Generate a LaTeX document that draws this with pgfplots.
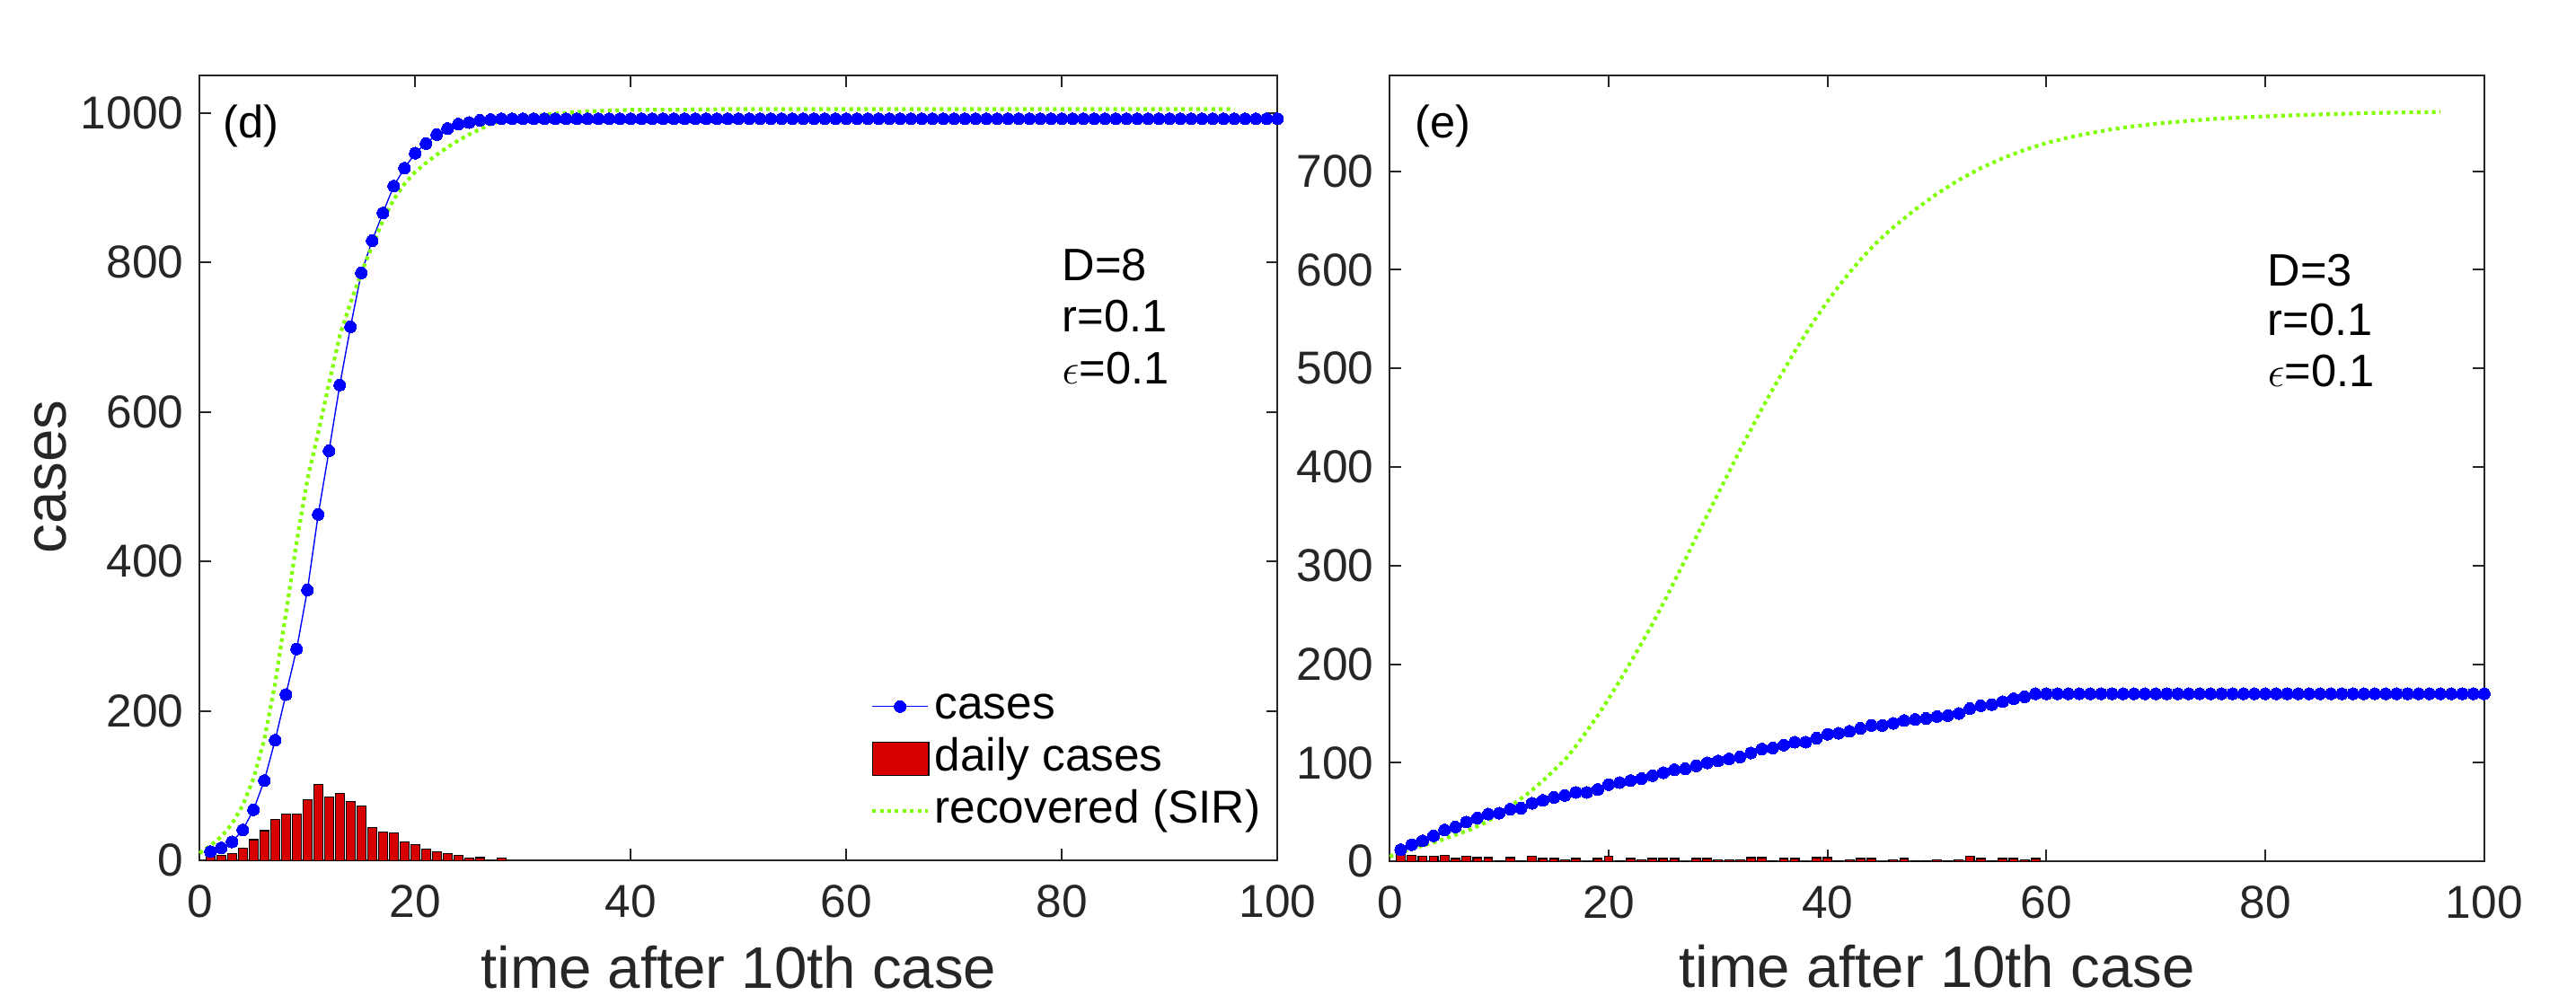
\documentclass[border=0pt]{standalone}
\usepackage{fontspec}
\setmainfont{Liberation Sans}
\usepackage{pgfplots}
\pgfplotsset{compat=1.18}
\definecolor{axgray}{RGB}{38,38,38}
\definecolor{barred}{RGB}{215,0,0}
\definecolor{sirgreen}{RGB}{128,255,0}
\tikzset{annot/.style={anchor=base west, inner sep=0pt, font=\fontsize{12.7}{15}\selectfont, text=black}}
\pgfplotsset{
  myaxis/.style={
    scale only axis, anchor=south west,
    xmin=0, xmax=100, ymin=0,
    xtick={0,20,...,100},
    tick align=inside,
    major tick length=3.2bp,
    axis line style={line width=0.5bp, draw=axgray},
    tick style={line width=0.5bp, color=axgray},
    tick label style={font=\fontsize{12.9}{15}\selectfont, text=axgray, inner sep=0pt},
    xticklabel style={anchor=north, yshift=-6.7bp},
    yticklabel style={anchor=east, xshift=-4.3bp},
    /pgf/number format/1000 sep={},
    /pgf/number format/assume math mode=true,
    label style={font=\fontsize{16.4}{19}\selectfont, text=axgray, inner sep=0pt},
    clip=false,
  },
  casesplot/.style={blue, line width=0.35bp, mark=*, mark size=1.65bp, mark options={fill=blue, draw=blue, line width=0pt},
    legend image code/.code={\draw[mark repeat=2,mark phase=2,##1] plot coordinates {(0bp,0bp)(7.75bp,0bp)(15.5bp,0bp)};}},
  barplot/.style={ybar, bar width=0.8, bar shift=0pt, fill=barred, draw=black, line width=0.3bp,
    legend image code/.code={\draw[##1] (0bp,-4.65bp) rectangle (15.7bp,4.65bp);}},
  sirplot/.style={sirgreen, line width=1.05bp, dash pattern=on 1bp off 1.1bp, mark=none,
    legend image code/.code={\draw[##1] (0bp,0bp) -- (15.5bp,0bp);}},
}
\begin{document}
\begin{tikzpicture}
\path[use as bounding box] (0,0) rectangle (717bp,279.5bp);
% ---------------- left panel (d)
\begin{axis}[myaxis,
  at={(55.575bp,39.925bp)}, width=300bp, height=218.575bp,
  ymax=1050, ytick={0,200,...,1000},
  xlabel={time after 10th case}, ylabel={cases},
  xlabel style={at={(axis description cs:0.5,-0.1621)}, anchor=base},
  ylabel style={at={(axis description cs:-0.1244,0.4887)}, anchor=base},
  legend style={at={(axis description cs:0.6223,0.2239)}, anchor=north west, draw=none, fill=none,
    inner sep=0pt, outer sep=0pt, row sep=2.4bp,
    font=\fontsize{12.9}{15}\selectfont,
    nodes={inner sep=0pt, text height=9.4bp, text depth=2.7bp, text=black},
    /tikz/every odd column/.append style={column sep=1.3bp}},
  legend cell align=left,
]
\addplot[casesplot] coordinates {
(1,12)(2,17)(3,25)(4,41)(5,68)(6,107)(7,161)(8,222)(9,283)(10,362)
(11,463)(12,548)(13,636)(14,714)(15,786)(16,829)(17,866)(18,902)(19,926)(20,946)
(21,959)(22,971)(23,979)(24,985)(25,987)(26,990)(27,991)(28,992)(29,992)(30,992)
(31,992)(32,992)(33,992)(34,992)(35,992)(36,992)(37,992)(38,992)(39,992)(40,992)
(41,992)(42,992)(43,992)(44,992)(45,992)(46,992)(47,992)(48,992)(49,992)(50,992)
(51,992)(52,992)(53,992)(54,992)(55,992)(56,992)(57,992)(58,992)(59,992)(60,992)
(61,992)(62,992)(63,992)(64,992)(65,992)(66,992)(67,992)(68,992)(69,992)(70,992)
(71,992)(72,992)(73,992)(74,992)(75,992)(76,992)(77,992)(78,992)(79,992)(80,992)
(81,992)(82,992)(83,992)(84,992)(85,992)(86,992)(87,992)(88,992)(89,992)(90,992)
(91,992)(92,992)(93,992)(94,992)(95,992)(96,992)(97,992)(98,992)(99,992)(100,992)
};
\addlegendentry{cases}
\addplot[barplot] coordinates {
(1,11)(2,7)(3,9)(4,17)(5,28)(6,40)(7,55)(8,62)(9,62)(10,81)
(11,102)(12,85)(13,90)(14,79)(15,73)(16,44)(17,38)(18,37)(19,25)(20,21)
(21,15)(22,12)(23,9)(24,7)(25,3)(26,4)(27,0)(28,3)
};
\addlegendentry{daily cases}
\addplot[sirplot] coordinates {
(0,10)(1,20)(2,32)(3,49)(4,74)(5,110)(6,162)(7,237)(8,330)(9,426)
(10,510)(11,572)(12,638)(13,702)(14,746)(15,786)(16,822)(17,856)(18,884)(19,905)
(20,921)(21,933)(22,944)(23,954)(24,963)(25,971)(26,978)(27,985)(28,989)(30,994)
(33,999)(36,1002)(40,1004)(50,1005)(60,1005)(70,1005)(80,1005)(90,1005)(96,1005)
};
\addlegendentry{recovered (SIR)}
\node[annot] at (axis description cs:0.0214,0.921) {(d)};
\node[annot] at (axis description cs:0.7997,0.7388) {D=8};
\node[annot] at (axis description cs:0.7997,0.6735) {r=0.1};
\node[annot] at (axis description cs:0.7997,0.6072) {$\epsilon$=0.1};
\end{axis}
% ---------------- right panel (e)
\begin{axis}[myaxis,
  at={(386.825bp,39.675bp)}, width=304.625bp, height=218.825bp,
  ymax=797, ytick={0,100,...,700},
  xlabel={time after 10th case},
  xlabel style={at={(axis description cs:0.5,-0.1607)}, anchor=base},
]
\addplot[casesplot] coordinates {
(1,12)(2,17)(3,21)(4,26)(5,32)(6,35)(7,40)(8,44)(9,48)(10,49)
(11,53)(12,54)(13,59)(14,62)(15,65)(16,67)(17,70)(18,70)(19,73)(20,78)
(21,80)(22,82)(23,84)(24,87)(25,90)(26,93)(27,94)(28,97)(29,100)(30,102)
(31,104)(32,106)(33,110)(34,114)(35,115)(36,118)(37,121)(38,121)(39,125)(40,129)
(41,130)(42,132)(43,135)(44,138)(45,138)(46,140)(47,143)(48,144)(49,145)(50,147)
(51,148)(52,150)(53,155)(54,158)(55,159)(56,162)(57,165)(58,167)(59,170)(60,170)
(61,170)(62,170)(63,170)(64,170)(65,170)(66,170)(67,170)(68,170)(69,170)(70,170)
(71,170)(72,170)(73,170)(74,170)(75,170)(76,170)(77,170)(78,170)(79,170)(80,170)
(81,170)(82,170)(83,170)(84,170)(85,170)(86,170)(87,170)(88,170)(89,170)(90,170)
(91,170)(92,170)(93,170)(94,170)(95,170)(96,170)(97,170)(98,170)(99,170)(100,170)
};
\addplot[barplot] coordinates {
(1,10)(2,6)(3,5)(4,5)(5,6)(6,3)(7,5)(8,4)(9,4)(10,1)
(11,4)(12,1)(13,5)(14,3)(15,3)(16,2)(17,3)(18,0)(19,3)(20,5)
(21,1)(22,3)(23,2)(24,3)(25,3)(26,3)(27,0)(28,3)(29,3)(30,2)
(31,2)(32,2)(33,4)(34,4)(35,1)(36,3)(37,3)(38,0)(39,4)(40,4)
(41,1)(42,2)(43,3)(44,3)(45,0)(46,2)(47,3)(48,1)(49,1)(50,2)
(51,1)(52,2)(53,5)(54,3)(55,1)(56,3)(57,3)(58,2)(59,3)
};
\addplot[sirplot] coordinates {
(0,5)(1.6,11.5)(3,16)(4.5,21)(6,27)(7.5,33)(9,41)(10.35,51)(11.4,59)(12.5,68)
(13.5,77)(14.5,87)(15.5,98)(16,103)(17,117)(18,132)(19,148)(20,165)(21,183)(22,202)
(23,221)(24,241)(25,262)(26,284)(27,306)(28,329)(29,351)(30,373)(31,395)(32,417)
(33,438)(34,459)(35,479)(36,498)(37,517)(38,535)(39,552)(40,568)(41,583)(42,597)
(43,610)(44,622)(45,633)(46,643)(47,652)(48,661)(49,669)(50,677)(52,691)(54,703)
(56,713)(58,721.5)(60,728.5)(62,734)(64,738.5)(66,742.5)(68,745.5)(70,748)(73,751)(76,753.5)
(80,755.5)(85,757.5)(90,759)(96,760)
};
\node[annot] at (axis description cs:0.0223,0.9206) {(e)};
\node[annot] at (axis description cs:0.8016,0.7323) {D=3};
\node[annot] at (axis description cs:0.8016,0.6695) {r=0.1};
\node[annot] at (axis description cs:0.8016,0.6038) {$\epsilon$=0.1};
\end{axis}
\end{tikzpicture}
\end{document}
